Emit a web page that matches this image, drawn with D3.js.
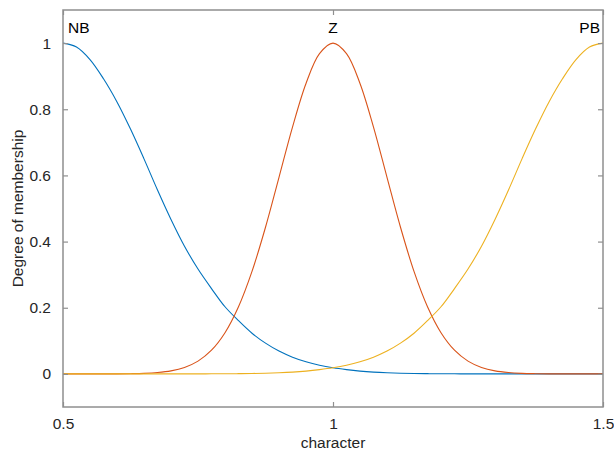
<!DOCTYPE html>
<html>
<head>
<meta charset="utf-8">
<script src="https://cdn.jsdelivr.net/npm/d3@7"></script>
<style>
  html, body { margin: 0; padding: 0; background: #fff; }
  svg { display: block; font-family: "Liberation Sans", Arial, sans-serif; }
</style>
</head>
<body>
<svg id="chart" width="614" height="454"></svg>
<script>
// Sample positions along the "character" universe
const xs = [0.5, 0.525, 0.55, 0.575, 0.6, 0.625, 0.65, 0.675, 0.7, 0.725,
            0.75, 0.775, 0.8, 0.825, 0.85, 0.875, 0.9, 0.925, 0.95, 0.975,
            1.0, 1.025, 1.05, 1.075, 1.1, 1.125, 1.15, 1.175, 1.2, 1.225,
            1.25, 1.275, 1.3, 1.325, 1.35, 1.375, 1.4, 1.425, 1.45, 1.475, 1.5];

// Membership degrees of each fuzzy set
const nbValues = [1, 0.988, 0.950, 0.892, 0.822, 0.740, 0.650, 0.556, 0.467, 0.386,
                  0.317, 0.258, 0.203, 0.161, 0.123, 0.093, 0.069, 0.0506, 0.0367, 0.0262,
                  0.0185, 0.0129, 0.0085, 0.0054, 0.0034, 0.0021, 0.0013, 0.0008, 0.0004, 0.0003,
                  0.0001, 0.0001, 0, 0, 0, 0, 0, 0, 0, 0, 0];
const zValues = [0, 0, 0, 0.0001, 0.0002, 0.0007, 0.0017, 0.0041, 0.0092, 0.0195,
                 0.0386, 0.0717, 0.1246, 0.2030, 0.3099, 0.4433, 0.5942, 0.7461, 0.8780, 0.9680,
                 1, 0.9680, 0.8780, 0.7461, 0.5942, 0.4433, 0.3099, 0.2030, 0.1246, 0.0717,
                 0.0386, 0.0195, 0.0092, 0.0041, 0.0017, 0.0007, 0.0002, 0.0001, 0, 0, 0];
const pbValues = [0, 0, 0, 0, 0, 0, 0, 0, 0, 0.0001,
                  0.0001, 0.0003, 0.0004, 0.0008, 0.0013, 0.0021, 0.0034, 0.0054, 0.0085, 0.0129,
                  0.0185, 0.0262, 0.0367, 0.0506, 0.069, 0.093, 0.123, 0.161, 0.203, 0.258,
                  0.317, 0.386, 0.467, 0.556, 0.650, 0.740, 0.822, 0.892, 0.950, 0.988, 1];

const setNames = ["NB", "Z", "PB"];
const setPeaks = [0.5, 1.0, 1.5];
const setColors = ["#0072BD", "#D95319", "#EDB120"];
const seriesValues = [nbValues, zValues, pbValues];

const xTicks = [0.5, 1, 1.5];
const yTicks = [0, 0.2, 0.4, 0.6, 0.8, 1];
const xDomain = [0.5, 1.5];
const yDomain = [-0.1, 1.1];

const margin = { left: 63, top: 10, right: 11, bottom: 47 };
const W = 614, H = 454;
const innerW = W - margin.left - margin.right;
const innerH = H - margin.top - margin.bottom;

const svg = d3.select("#chart");
const g = svg.append("g").attr("transform", `translate(${margin.left},${margin.top})`);

const x = d3.scaleLinear().domain(xDomain).range([0, innerW]);
const y = d3.scaleLinear().domain(yDomain).range([innerH, 0]);

svg.append("defs").append("clipPath").attr("id", "plot-clip")
  .append("rect").attr("width", innerW).attr("height", innerH);

const axisColor = "#8f8f8f";
const textColor = "#262626";
const tickLen = 5;

// Curves
const line = d3.line()
  .x((d, i) => x(xs[i]))
  .y(d => y(d))
  .curve(d3.curveCatmullRom.alpha(0.5));

const curves = g.append("g").attr("clip-path", "url(#plot-clip)");
seriesValues.forEach((vals, k) => {
  curves.append("path")
    .datum(vals)
    .attr("fill", "none")
    .attr("stroke", setColors[k])
    .attr("stroke-width", 1.1)
    .attr("d", line);
});

// Axes with inward ticks, mirrored on the opposite sides
function styleAxis(sel, showText) {
  sel.select(".domain").remove();
  sel.selectAll(".tick line").attr("stroke", axisColor).attr("stroke-width", 1.2);
  sel.selectAll(".tick text")
    .attr("fill", textColor)
    .style("font-size", "15.5px")
    .style("display", showText ? null : "none");
}

const fmt = d => d3.format("~g")(d);

const xBottom = g.append("g").attr("transform", `translate(0,${innerH})`)
  .call(d3.axisBottom(x).tickValues(xTicks).tickFormat(fmt).tickSizeInner(-tickLen).tickPadding(11));
styleAxis(xBottom, true);

const xTop = g.append("g")
  .call(d3.axisTop(x).tickValues(xTicks).tickSizeInner(-tickLen));
styleAxis(xTop, false);

const yLeft = g.append("g")
  .call(d3.axisLeft(y).tickValues(yTicks).tickFormat(fmt).tickSizeInner(-tickLen).tickPadding(12));
styleAxis(yLeft, true);

const yRight = g.append("g").attr("transform", `translate(${innerW},0)`)
  .call(d3.axisRight(y).tickValues(yTicks).tickSizeInner(-tickLen));
styleAxis(yRight, false);

// Box around the plot area
g.append("rect")
  .attr("width", innerW).attr("height", innerH)
  .attr("fill", "none")
  .attr("stroke", axisColor)
  .attr("stroke-width", 1.5);

// Set names above each peak
setNames.forEach((name, k) => {
  const anchor = k === 0 ? "start" : (k === setNames.length - 1 ? "end" : "middle");
  const dx = k === 0 ? 5 : (k === setNames.length - 1 ? -3 : 0);
  g.append("text")
    .attr("x", x(setPeaks[k]) + dx)
    .attr("y", y(1) - 10.5)
    .attr("text-anchor", anchor)
    .attr("fill", "#000")
    .style("font-size", "15.5px")
    .text(name);
});

// Axis titles
svg.append("text")
  .attr("x", margin.left + innerW / 2)
  .attr("y", 447.5)
  .attr("text-anchor", "middle")
  .attr("fill", textColor)
  .style("font-size", "15.5px")
  .text("character");

svg.append("text")
  .attr("transform", `translate(22.5,${margin.top + innerH / 2}) rotate(-90)`)
  .attr("text-anchor", "middle")
  .attr("fill", textColor)
  .style("font-size", "15.5px")
  .text("Degree of membership");
</script>
</body>
</html>
